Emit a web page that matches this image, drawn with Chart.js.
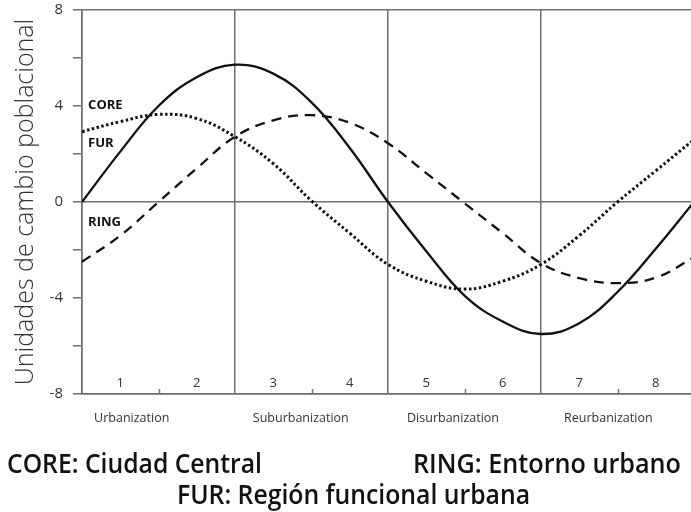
<!DOCTYPE html>
<html><head><meta charset="utf-8">
<script src="https://cdn.jsdelivr.net/npm/chart.js@4.4.0/dist/chart.umd.min.js"></script>
<style>
html,body{margin:0;padding:0;background:#fff;overflow:hidden;width:691px;height:512px;}
#wrap{position:absolute;left:0;top:0;width:700px;height:512px;}
</style></head><body>
<div id="wrap"><canvas id="c"></canvas></div>
<script>
// ---- data ----
const xValues    = [0, 0.5, 1, 1.5, 2, 2.5, 3, 3.5, 4, 4.5, 5, 5.5, 6, 6.5, 7, 7.5, 8];
const coreValues = [0, 2.1, 4.0, 5.2, 5.72, 5.35, 4.15, 2.25, 0, -2.05, -3.9, -4.98, -5.5, -5.05, -3.75, -1.95, 0];
const furValues  = [2.93, 3.35, 3.65, 3.48, 2.72, 1.6, 0.05, -1.3, -2.6, -3.3, -3.63, -3.3, -2.6, -1.4, 0, 1.3, 2.6];
const ringValues = [-2.49, -1.4, 0, 1.4, 2.72, 3.4, 3.62, 3.3, 2.45, 1.2, -0.05, -1.3, -2.55, -3.17, -3.38, -3.15, -2.3];
const stageNumbers = ['1', '2', '3', '4', '5', '6', '7', '8'];
const phaseNames   = ['Urbanization', 'Suburbanization', 'Disurbanization', 'Reurbanization'];
const seriesNames  = ['CORE', 'FUR', 'RING'];
const yAxisTitle   = 'Unidades de cambio poblacional';
const captionTop   = ['CORE: Ciudad Central', 'RING: Entorno urbano'];
const captionBottom = 'FUR: Región funcional urbana';

// ---- layout / style ----
const gridColor = '#6f6f6f';
const inkColor = '#111';
const phaseAnchors = [0.65, 2.86, 4.85, 6.88];
const seriesLabelAnchors = [{x: 0.08, y: 4.04}, {x: 0.08, y: 2.46}, {x: 0.08, y: -0.83}];

function pts(vals) { return xValues.map((x, i) => ({x: x, y: vals[i]})); }

function fitText(ctx, text, x, y, width) {
  const w = ctx.measureText(text).width;
  ctx.save();
  ctx.translate(x, y);
  ctx.scale(width / w, 1);
  ctx.textAlign = 'left';
  ctx.fillText(text, 0, 0);
  ctx.restore();
}

const decor = {
  id: 'decor',
  afterDraw(chart) {
    const ctx = chart.ctx;
    const xs = chart.scales.x, ys = chart.scales.y;
    const a = chart.chartArea;
    ctx.save();
    // small inward ticks at odd positions
    ctx.strokeStyle = gridColor; ctx.lineWidth = 1.5;
    [1, 3, 5, 7].forEach(v => {
      const px = Math.round(xs.getPixelForValue(v)) + 0.5;
      ctx.beginPath(); ctx.moveTo(px, a.bottom - 5); ctx.lineTo(px, a.bottom); ctx.stroke();
    });
    // stage numbers
    ctx.fillStyle = '#333';
    ctx.font = '13px "Open Sans"';
    ctx.textAlign = 'center'; ctx.textBaseline = 'alphabetic';
    stageNumbers.forEach((t, i) => {
      ctx.fillText(t, xs.getPixelForValue(i + 0.5), a.bottom - 7);
    });
    // phase names
    ctx.font = '12.5px "Open Sans"';
    phaseNames.forEach((t, i) => {
      ctx.fillText(t, xs.getPixelForValue(phaseAnchors[i]), a.bottom + 28);
    });
    // series labels
    ctx.fillStyle = inkColor;
    ctx.font = 'bold 13px "Open Sans"';
    ctx.textAlign = 'left'; ctx.textBaseline = 'middle';
    seriesNames.forEach((t, i) => {
      ctx.fillText(t, xs.getPixelForValue(seriesLabelAnchors[i].x), ys.getPixelForValue(seriesLabelAnchors[i].y));
    });
    // y axis title
    ctx.save();
    ctx.fillStyle = '#333';
    ctx.font = '300 25px "Open Sans"';
    ctx.translate(33, (a.top + a.bottom) / 2);
    ctx.rotate(-Math.PI / 2);
    ctx.textAlign = 'center'; ctx.textBaseline = 'alphabetic';
    ctx.fillText(yAxisTitle, 0, 0);
    ctx.restore();
    // captions
    ctx.fillStyle = inkColor;
    ctx.font = '600 27px "Open Sans"';
    ctx.textBaseline = 'alphabetic';
    fitText(ctx, captionTop[0], 7, 473, 255);
    fitText(ctx, captionTop[1], 413, 473, 268);
    fitText(ctx, captionBottom, 177, 504, 353);
    ctx.restore();
  }
};

const lineBase = {pointRadius: 0, fill: false, borderColor: inkColor, tension: 0.4, borderCapStyle: 'butt'};

new Chart(document.getElementById('c'), {
  type: 'line',
  data: {
    datasets: [
      Object.assign({label: seriesNames[0], data: pts(coreValues), borderWidth: 2.3}, lineBase),
      Object.assign({label: seriesNames[1], data: pts(furValues), borderWidth: 3, borderDash: [2.5, 2.5]}, lineBase),
      Object.assign({label: seriesNames[2], data: pts(ringValues), borderWidth: 2.3, borderDash: [10, 7]}, lineBase)
    ]
  },
  options: {
    responsive: true, maintainAspectRatio: false, animation: false,
    layout: {padding: {left: 0, right: 6, top: 10, bottom: 118}},
    plugins: {legend: {display: false}, tooltip: {enabled: false}},
    scales: {
      x: {
        type: 'linear', min: 0, max: 8,
        ticks: {stepSize: 1, display: false},
        grid: {
          color: c => (c.tick && c.tick.value % 2 === 0) ? gridColor : 'rgba(0,0,0,0)',
          lineWidth: 1.5, drawTicks: false
        },
        border: {display: true, color: gridColor, width: 1.5},
        afterFit: s => { s.height = 0; s.paddingLeft = 0; s.paddingRight = 0; }
      },
      y: {
        min: -8, max: 8,
        ticks: {stepSize: 2, color: '#333', font: {size: 15, family: 'Open Sans'}, padding: 10,
          callback: v => (v % 4 === 0 ? String(v) : '')},
        grid: {
          color: c => (c.tick && [8, 0, -8].includes(c.tick.value)) ? gridColor : 'rgba(0,0,0,0)',
          tickColor: gridColor, tickLength: 9, lineWidth: 1.5
        },
        border: {display: true, color: gridColor, width: 1.5},
        afterFit: s => { s.width = 82; s.paddingTop = 0; s.paddingBottom = 0; }
      }
    }
  },
  plugins: [decor]
});
</script>
</body></html>
